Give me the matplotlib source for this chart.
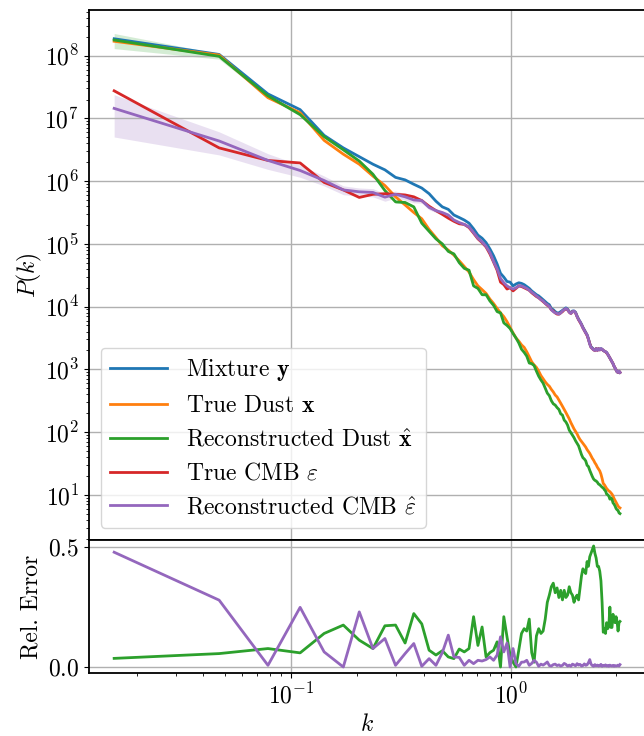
import numpy as np
import matplotlib.pyplot as plt

plt.rcParams['font.family'] = ['cmr10', 'DejaVu Serif']
plt.rcParams['mathtext.fontset'] = 'cm'
plt.rcParams['axes.unicode_minus'] = False
plt.rcParams['axes.formatter.use_mathtext'] = True
plt.rcParams['font.size'] = 17

# bin centres of the radial power spectrum
n_bins = 100
k = (np.arange(n_bins) + 0.5) * np.pi / n_bins

# log10 P(k) for each map
log_mix = [8.27, 8.02, 7.39, 7.14, 6.73, 6.53, 6.39, 6.27, 6.18, 6.06,
           6.02, 5.95, 5.89, 5.80, 5.68, 5.59, 5.55, 5.46, 5.42, 5.38,
           5.33, 5.24, 5.14, 5.09, 5.02, 4.92, 4.81, 4.68, 4.53, 4.47,
           4.40, 4.39, 4.33, 4.36, 4.38, 4.37, 4.35, 4.32, 4.29, 4.25,
           4.22, 4.19, 4.17, 4.14, 4.11, 4.08, 4.05, 4.03, 3.97, 3.95,
           3.92, 3.90, 3.90, 3.92, 3.94, 3.96, 3.98, 3.96, 3.92, 3.90,
           3.93, 3.93, 3.91, 3.85, 3.80, 3.76, 3.72, 3.67, 3.63, 3.59,
           3.55, 3.49, 3.41, 3.36, 3.34, 3.32, 3.31, 3.33, 3.31, 3.33,
           3.31, 3.33, 3.32, 3.30, 3.29, 3.28, 3.27, 3.24, 3.21, 3.18,
           3.15, 3.12, 3.09, 3.05, 3.02, 2.99, 2.96, 2.95, 2.97, 2.95]

log_dust = [8.23, 8.01, 7.33, 7.09, 6.65, 6.43, 6.27, 6.08, 5.93, 5.75,
            5.62, 5.50, 5.40, 5.23, 5.10, 4.97, 4.90, 4.82, 4.73, 4.64,
            4.55, 4.43, 4.33, 4.27, 4.21, 4.12, 4.05, 3.97, 3.90, 3.84,
            3.76, 3.67, 3.58, 3.50, 3.45, 3.39, 3.35, 3.28, 3.20, 3.12,
            3.07, 3.03, 2.97, 2.90, 2.85, 2.80, 2.76, 2.73, 2.68, 2.64,
            2.59, 2.56, 2.51, 2.46, 2.41, 2.36, 2.31, 2.26, 2.21, 2.15,
            2.10, 2.05, 2.01, 1.97, 1.92, 1.88, 1.85, 1.82, 1.79, 1.76,
            1.72, 1.69, 1.66, 1.62, 1.58, 1.55, 1.51, 1.48, 1.44, 1.41,
            1.38, 1.33, 1.26, 1.18, 1.16, 1.13, 1.10, 1.08, 1.06, 1.05,
            1.03, 1.01, 0.98, 0.94, 0.91, 0.88, 0.85, 0.82, 0.80, 0.79]

log_dust_rec = [8.25, 7.99, 7.36, 7.06, 6.71, 6.50, 6.32, 6.11, 5.85, 5.67,
                5.66, 5.59, 5.33, 5.20, 5.08, 5.00, 4.88, 4.84, 4.70, 4.61,
                4.58, 4.33, 4.29, 4.19, 4.19, 4.09, 4.02, 3.92, 3.90, 3.74,
                3.70, 3.65, 3.57, 3.50, 3.42, 3.32, 3.27, 3.21, 3.10, 3.09,
                3.06, 2.97, 2.89, 2.83, 2.78, 2.70, 2.62, 2.58, 2.50, 2.45,
                2.43, 2.39, 2.36, 2.29, 2.27, 2.19, 2.16, 2.11, 2.03, 1.99,
                1.95, 1.91, 1.86, 1.82, 1.78, 1.71, 1.64, 1.59, 1.57, 1.54,
                1.47, 1.45, 1.39, 1.34, 1.29, 1.25, 1.23, 1.22, 1.20, 1.17,
                1.16, 1.14, 1.12, 1.11, 1.08, 1.06, 1.01, 1.00, 0.98, 0.93,
                0.95, 0.93, 0.87, 0.85, 0.82, 0.78, 0.76, 0.75, 0.71, 0.70]

log_cmb = [7.44, 6.53, 6.33, 6.29, 5.98, 5.86, 5.74, 5.79, 5.80, 5.79,
           5.78, 5.75, 5.69, 5.60, 5.53, 5.47, 5.41, 5.36, 5.32, 5.31,
           5.26, 5.17, 5.08, 5.02, 4.95, 4.84, 4.71, 4.58, 4.39, 4.35,
           4.28, 4.30, 4.25, 4.29, 4.33, 4.32, 4.30, 4.28, 4.26, 4.22,
           4.19, 4.16, 4.14, 4.11, 4.08, 4.05, 4.02, 4.00, 3.95, 3.93,
           3.90, 3.88, 3.88, 3.90, 3.92, 3.95, 3.96, 3.95, 3.91, 3.89,
           3.92, 3.92, 3.90, 3.84, 3.79, 3.75, 3.71, 3.66, 3.62, 3.58,
           3.54, 3.48, 3.41, 3.35, 3.33, 3.31, 3.30, 3.33, 3.30, 3.33,
           3.31, 3.32, 3.32, 3.30, 3.29, 3.28, 3.26, 3.24, 3.21, 3.18,
           3.15, 3.12, 3.09, 3.05, 3.02, 2.99, 2.96, 2.95, 2.97, 2.95]

log_cmb_rec = [7.16, 6.64, 6.33, 6.17, 6.01, 5.86, 5.83, 5.82, 5.745, 5.79,
               5.75, 5.70, 5.69, 5.58, 5.53, 5.50, 5.46, 5.38, 5.34, 5.31,
               5.27, 5.18, 5.09, 5.03, 4.96, 4.86, 4.72, 4.60, 4.45, 4.38,
               4.33, 4.30, 4.28, 4.30, 4.33, 4.33, 4.31, 4.29, 4.26, 4.23,
               4.20, 4.17, 4.14, 4.11, 4.09, 4.05, 4.03, 4.00, 3.95, 3.92,
               3.90, 3.89, 3.88, 3.90, 3.93, 3.95, 3.97, 3.95, 3.91, 3.89,
               3.92, 3.93, 3.90, 3.84, 3.79, 3.76, 3.71, 3.66, 3.62, 3.58,
               3.55, 3.48, 3.40, 3.35, 3.33, 3.31, 3.30, 3.33, 3.30, 3.33,
               3.31, 3.33, 3.32, 3.30, 3.29, 3.28, 3.27, 3.24, 3.21, 3.18,
               3.15, 3.12, 3.09, 3.05, 3.02, 2.99, 2.96, 2.95, 2.97, 2.95]

# relative 1-sigma spread of the posterior samples
spread_dust = [0.27, 0.10, 0.06, 0.05, 0.05, 0.05, 0.05, 0.05] + [0.05] * 92
spread_cmb = [0.65, 0.40, 0.28, 0.22, 0.18, 0.16, 0.15, 0.15, 0.14, 0.13,
              0.12, 0.10, 0.09, 0.08, 0.07, 0.06] + [0.05] * 84

# relative error of the reconstructed spectra
err_dust = [0.036, 0.056, 0.077, 0.059, 0.14, 0.175, 0.112, 0.077, 0.172, 0.175,
            0.10, 0.223, 0.18, 0.07, 0.05, 0.068, 0.042, 0.035, 0.075, 0.063,
            0.077, 0.21, 0.09, 0.167, 0.042, 0.06, 0.07, 0.105, 0.0, 0.21,
            0.126, 0.05, 0.02, 0.0, 0.07, 0.14, 0.16, 0.15, 0.20, 0.06,
            0.02, 0.13, 0.16, 0.14, 0.15, 0.20, 0.27, 0.30, 0.335, 0.35,
            0.31, 0.33, 0.29, 0.32, 0.28, 0.32, 0.29, 0.30, 0.335, 0.31,
            0.30, 0.27, 0.29, 0.30, 0.28, 0.33, 0.38, 0.41, 0.40, 0.39,
            0.44, 0.42, 0.46, 0.475, 0.49, 0.505, 0.475, 0.455, 0.42, 0.42,
            0.40, 0.36, 0.27, 0.145, 0.16, 0.14, 0.185, 0.16, 0.17, 0.25,
            0.165, 0.165, 0.22, 0.19, 0.185, 0.21, 0.19, 0.15, 0.185, 0.19]

err_cmb = [0.479, 0.279, 0.007, 0.249, 0.063, 0.0, 0.23, 0.077, 0.119, 0.007,
           0.056, 0.098, 0.003, 0.035, 0.007, 0.06, 0.133, 0.042, 0.04, 0.007,
           0.028, 0.014, 0.028, 0.025, 0.031, 0.042, 0.028, 0.05, 0.126, 0.063,
           0.10, 0.0, 0.077, 0.014, 0.003, 0.02, 0.021, 0.028, 0.007, 0.015,
           0.028, 0.02, 0.003, 0.012, 0.008, 0.014, 0.021, 0.006, 0.004, 0.010,
           0.012, 0.006, 0.009, 0.004, 0.007, 0.015, 0.011, 0.004, 0.008, 0.003,
           0.012, 0.009, 0.005, 0.014, 0.008, 0.011, 0.004, 0.006, 0.013, 0.007,
           0.009, 0.018, 0.031, 0.012, 0.006, 0.003, 0.010, 0.005, 0.008, 0.004,
           0.006, 0.011, 0.003, 0.007, 0.005, 0.009, 0.004, 0.006, 0.003, 0.008,
           0.005, 0.004, 0.007, 0.003, 0.006, 0.004, 0.005, 0.008, 0.004, 0.010]

mix = 10 ** np.array(log_mix)
dust = 10 ** np.array(log_dust)
dust_rec = 10 ** np.array(log_dust_rec)
cmb = 10 ** np.array(log_cmb)
cmb_rec = 10 ** np.array(log_cmb_rec)
spread_dust = np.array(spread_dust)
spread_cmb = np.array(spread_cmb)

fig = plt.figure(figsize=(6.44, 7.36), dpi=100)
ax = fig.add_axes([0.138, 0.2663, 0.864, 0.7201])
ax_err = fig.add_axes([0.138, 0.0856, 0.864, 0.1807], sharex=ax)

lw = 2.0
ax.plot(k, mix, color='C0', lw=lw, label=r'Mixture $\mathbf{y}$')
ax.plot(k, dust, color='C1', lw=lw, label=r'True Dust $\mathbf{x}$')
ax.plot(k, dust_rec, color='C2', lw=lw, label=r'Reconstructed Dust $\hat{\mathbf{x}}$')
ax.fill_between(k, dust_rec * (1 - spread_dust), dust_rec * (1 + spread_dust),
                color='C2', alpha=0.2, lw=0)
ax.plot(k, cmb, color='C3', lw=lw, label=r'True CMB $\varepsilon$')
ax.plot(k, cmb_rec, color='C4', lw=lw, label=r'Reconstructed CMB $\hat{\varepsilon}$')
ax.fill_between(k, cmb_rec * (1 - spread_cmb), cmb_rec * (1 + spread_cmb),
                color='C4', alpha=0.2, lw=0)

ax.set_xscale('log')
ax.set_yscale('log')
ax.set_ylim(1.9, 5.35e8)
ax.set_yticks([10.0 ** i for i in range(1, 9)])
ax.set_ylabel('$P(k)$', labelpad=0)
ax.tick_params(labelbottom=False)
ax.grid(True, color='#b0b0b0', lw=1.0)
ax.legend(loc='lower left', handlelength=2.4)

ax_err.plot(k, err_dust, color='C2', lw=lw)
ax_err.plot(k, err_cmb, color='C4', lw=lw)
ax_err.set_ylim(-0.025, 0.53)
ax_err.set_yticks([0.0, 0.5])
ax_err.set_ylabel('Rel. Error')
ax_err.set_xlabel('$k$')
ax_err.grid(True, color='#b0b0b0', lw=1.0)

for a in (ax, ax_err):
    for s in a.spines.values():
        s.set_linewidth(1.3)

fig.savefig('out.png', dpi=100)
